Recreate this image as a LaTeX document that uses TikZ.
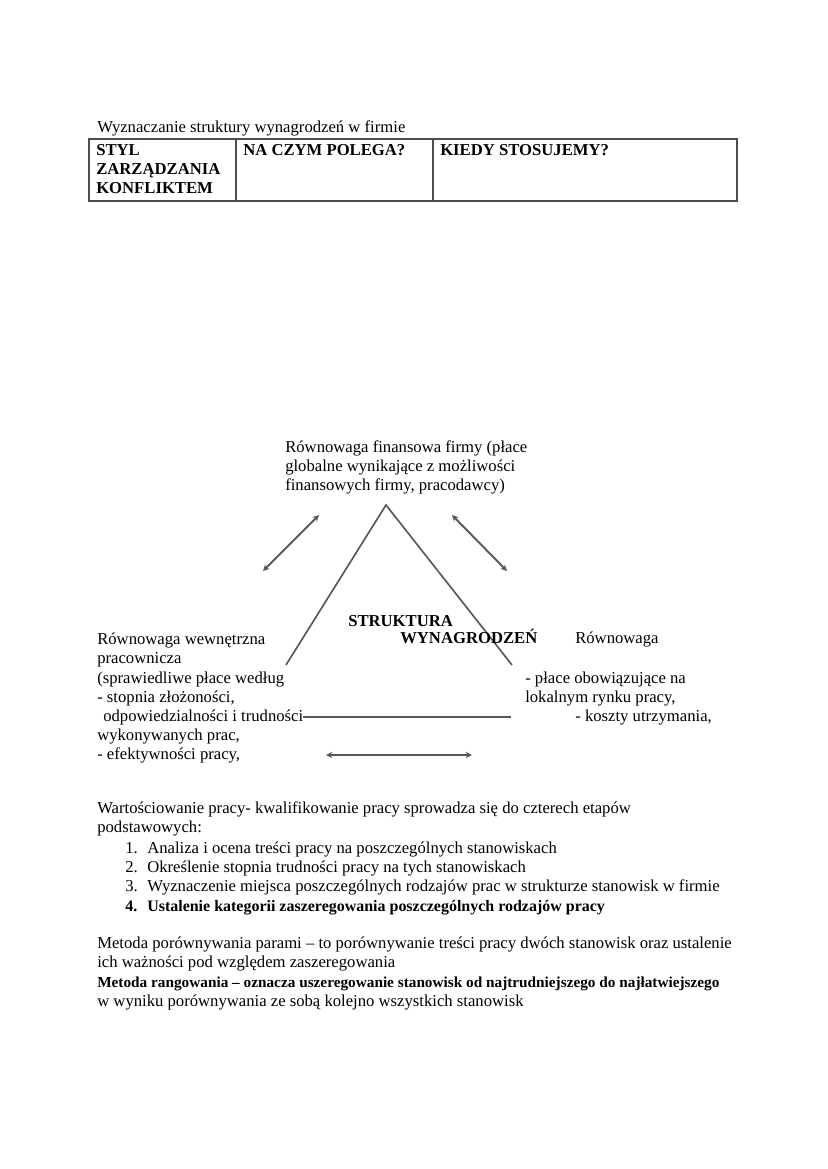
\documentclass[tikz,border=0pt]{standalone}
\usepackage{fontspec}
\setmainfont{Liberation Serif}
\usetikzlibrary{arrows.meta}
\tikzset{
  txt/.style={anchor=base west, inner sep=0pt, font=\fontsize{12}{14}\selectfont},
  bold/.style={txt, font=\fontsize{12}{14}\selectfont\bfseries},
  boldsm/.style={txt, font=\fontsize{11}{13}\selectfont\bfseries},
  boldmid/.style={txt, font=\fontsize{11.5}{13}\selectfont\bfseries},
  cell/.style={txt, font=\fontsize{12}{14}\selectfont\bfseries},
  edge/.style={draw=black!65, line width=1.2pt},
  twoway/.style={edge, line width=1.4pt, {Stealth[length=4.5pt,width=4.5pt]}-{Stealth[length=4.5pt,width=4.5pt]}},
}
\begin{document}
\begin{tikzpicture}[x=0.72pt, y=-0.72pt]
  \useasboundingbox (0,0) rectangle (827,1169);

  % tytul i tabela
  \node[txt] (title) at (97,132) {Wyznaczanie struktury wynagrodzeń w firmie};
  \coordinate (tabNW) at (89,139);
  \coordinate (tabSE) at (737,201);
  \draw[draw=black!70, line width=1.8pt] (tabNW) rectangle (tabSE);
  \draw[draw=black!70, line width=1.2pt] (236,139) -- (236,201);
  \draw[draw=black!70, line width=1.2pt] (433,139) -- (433,201);
  \node[cell] (styl1) at (96,155) {STYL};
  \node[cell] (styl2) at (96,174) {ZARZĄDZANIA};
  \node[cell] (styl3) at (96,193) {KONFLIKTEM};
  \node[cell] (czym) at (243,155) {NA CZYM POLEGA?};
  \node[cell] (kiedy) at (440,155) {KIEDY STOSUJEMY?};

  % wierzcholek - rownowaga finansowa
  \node[txt] (fin1) at (285,452) {Równowaga finansowa firmy (płace};
  \node[txt] (fin2) at (285,471) {globalne wynikające z możliwości};
  \node[txt] (fin3) at (285,490) {finansowych firmy, pracodawcy)};

  % trojkat
  \coordinate (apex) at (386,505);
  \coordinate (leftEnd) at (286,665);
  \coordinate (rightEnd) at (512,665);
  \draw[edge] (leftEnd) -- (apex) -- (rightEnd);

  % strzalki
  \coordinate (arrL1) at (319,515);
  \coordinate (arrL2) at (263,571);
  \coordinate (arrR1) at (452,515);
  \coordinate (arrR2) at (507,571);
  \draw[twoway] (arrL1) -- (arrL2);
  \draw[twoway] (arrR1) -- (arrR2);

  \node[bold] (struk) at (348,626) {STRUKTURA};
  \node[bold] (wyn) at (400,643) {WYNAGRODZEŃ};

  % lewa strona
  \node[txt] (we1) at (97,644) {Równowaga wewnętrzna};
  \node[txt] (we2) at (97,663) {pracownicza};
  \node[txt] (we3) at (97,683) {(sprawiedliwe płace według};
  \node[txt] (we4) at (97,702) {- stopnia złożoności,};
  \node[txt] (we5) at (103,721) {odpowiedzialności i trudności};
  \node[txt] (we6) at (97,740) {wykonywanych prac,};
  \node[txt] (we7) at (97,759) {- efektywności pracy,};

  % prawa strona
  \node[txt] (ze1) at (575,643) {Równowaga};
  \node[txt] (ze2) at (525,683) {- płace obowiązujące na};
  \node[txt] (ze3) at (525,702) {lokalnym rynku pracy,};
  \node[txt] (ze4) at (575,721) {- koszty utrzymania,};

  % linie dolne
  \coordinate (baseL) at (303,717);
  \coordinate (baseR) at (511,717);
  \draw[edge] (baseL) -- (baseR);
  \coordinate (botL) at (326,755);
  \coordinate (botR) at (472,755);
  \draw[twoway] (botL) -- (botR);

  % wartosciowanie pracy
  \node[txt] (wp1) at (97,813) {Wartościowanie pracy- kwalifikowanie pracy sprowadza się do czterech etapów};
  \node[txt] (wp2) at (97,832) {podstawowych:};
  \foreach \n/\y/\t in {1/853/{Analiza i ocena treści pracy na poszczególnych stanowiskach},
                        2/872/{Określenie stopnia trudności pracy na tych stanowiskach},
                        3/891/{Wyznaczenie miejsca poszczególnych rodzajów prac w strukturze stanowisk w firmie}}{
    \node[txt] (num\n) at (125,\y) {\n.};
    \node[txt] (item\n) at (147,\y) {\t};
  }
  \node[boldmid] (num4) at (125,911) {4.};
  \node[boldmid] (item4) at (147,911) {Ustalenie kategorii zaszeregowania poszczególnych rodzajów pracy};

  % metody
  \node[txt] (par1) at (97,948) {Metoda porównywania parami – to porównywanie treści pracy dwóch stanowisk oraz ustalenie};
  \node[txt] (par2) at (97,967) {ich ważności pod względem zaszeregowania};
  \node[boldsm] (rang1) at (97,987) {Metoda rangowania – oznacza uszeregowanie stanowisk od najtrudniejszego do najłatwiejszego};
  \node[txt] (rang2) at (97,1006) {w wyniku porównywania ze sobą kolejno wszystkich stanowisk};
\end{tikzpicture}
\end{document}
